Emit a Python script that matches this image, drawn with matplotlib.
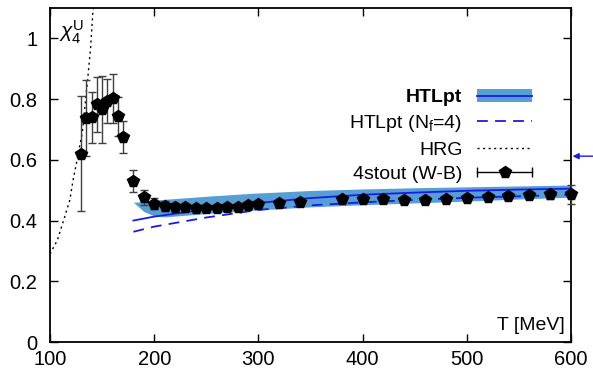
import numpy as np
import matplotlib
matplotlib.use('Agg')
import matplotlib.pyplot as plt
from matplotlib.lines import Line2D
from matplotlib.patches import Patch
from matplotlib.legend_handler import HandlerLine2D, HandlerTuple

plt.rcParams['font.family'] = ['Liberation Sans', 'DejaVu Sans']
plt.rcParams['mathtext.fontset'] = 'custom'
plt.rcParams['mathtext.rm'] = 'Liberation Sans'
plt.rcParams['mathtext.it'] = 'Liberation Sans:italic'

# lattice data, 4stout (W-B)
T_lat = [130, 135, 140, 145, 150, 155, 160, 165, 170, 180, 190, 200, 210, 220,
         230, 240, 250, 260, 270, 280, 290, 300, 320, 340, 380, 400, 420, 440,
         460, 480, 500, 520, 540, 560, 580, 600]
chi_lat = [0.62, 0.737, 0.74, 0.783, 0.766, 0.793, 0.802, 0.743, 0.676, 0.53,
           0.477, 0.455, 0.448, 0.446, 0.444, 0.442, 0.440, 0.440, 0.443,
           0.446, 0.450, 0.454, 0.459, 0.461, 0.470, 0.472, 0.470, 0.468,
           0.468, 0.470, 0.473, 0.477, 0.481, 0.485, 0.487, 0.486]
err_lat = [0.19, 0.125, 0.085, 0.09, 0.11, 0.072, 0.08, 0.065, 0.053, 0.037,
           0.025, 0.018, 0.015, 0.013, 0.01, 0.01, 0.01, 0.01, 0.01, 0.01,
           0.01, 0.01, 0.01, 0.01, 0.01, 0.01, 0.01, 0.01, 0.01, 0.01, 0.01,
           0.01, 0.01, 0.012, 0.015, 0.03]

# HTLpt band and central line
T_htl = [180, 190, 200, 210, 250, 295, 350, 400, 450, 500, 550, 600]
htl_lo = [0.46, 0.43, 0.415, 0.412, 0.423, 0.434, 0.445, 0.452, 0.458, 0.464,
          0.471, 0.477]
htl_hi = [0.46, 0.463, 0.467, 0.470, 0.480, 0.490, 0.499, 0.504, 0.508, 0.511,
          0.514, 0.517]
T_line = [180, 200, 250, 300, 350, 400, 450, 500, 550, 600]
htl_mid = [0.40, 0.413, 0.437, 0.458, 0.474, 0.485, 0.492, 0.498, 0.502, 0.505]
htl_nf4 = [0.363, 0.38, 0.41, 0.435, 0.45, 0.46, 0.468, 0.475, 0.48, 0.485]

# HRG
T_hrg = [100, 107, 113, 119, 122, 126, 131, 136, 139, 141, 142]
chi_hrg = [0.29, 0.335, 0.40, 0.467, 0.53, 0.60, 0.69, 0.86, 0.97, 1.08, 1.11]

band_color = '#569fd5'
line_color = '#1a1aee'

fig = plt.figure(figsize=(5.93, 3.69), dpi=100)
ax = fig.add_axes([50 / 593, 27 / 369, 521 / 593, 334 / 369])

ax.fill_between(T_htl, htl_lo, htl_hi, color=band_color, lw=0)
ax.plot(T_line, htl_mid, color=line_color, lw=1.3)
ax.plot(T_line, htl_nf4, color=line_color, lw=1.3, dashes=(6, 4))
ax.plot(T_hrg, chi_hrg, color='k', lw=1.0, ls=(0, (1.5, 2.5)))
ax.errorbar(T_lat, chi_lat, yerr=err_lat, fmt='p', color='k', ms=8.5,
            ecolor='0.25', elinewidth=1.0, capsize=3, capthick=1.0,
            clip_on=False, zorder=5)

ax.set_xlim(100, 600)
ax.set_ylim(0, 1.1)
ax.set_xticks([100, 200, 300, 400, 500, 600])
ax.set_yticks([0, 0.2, 0.4, 0.6, 0.8, 1.0])
ax.set_yticklabels(['0', '0.2', '0.4', '0.6', '0.8', '1'])
ax.tick_params(direction='in', length=6, width=1.0, labelsize=14.5,
               top=True, right=True)
ax.tick_params(axis='y', pad=9)
ax.tick_params(axis='x', pad=6)
for s in ax.spines.values():
    s.set_linewidth(1.3)

ax.text(109, 0.975, r'$\chi_4^{\mathrm{U}}$', fontsize=15, ha='left',
        va='bottom')
ax.text(594, 0.025, 'T [MeV]', fontsize=14, ha='right', va='bottom')

ax.annotate('', xy=(1.003, 0.612), xycoords=('axes fraction', 'data'),
            xytext=(1.0, 0.612), textcoords=('figure fraction', 'data'),
            arrowprops=dict(arrowstyle='-|>', color=line_color, lw=1.0,
                            mutation_scale=9, shrinkA=0, shrinkB=0),
            annotation_clip=False)

# legend
h_band = Patch(facecolor=band_color, edgecolor='none')
h_mid = Line2D([], [], color=line_color, lw=1.3)
h_nf4 = Line2D([], [], color=line_color, lw=1.3, dashes=(6, 4))
h_hrg = Line2D([], [], color='k', lw=1.0, ls=(0, (1.5, 2.5)))
h_bar = Line2D([], [], color='k', lw=1.0, marker='|', ms=7, mew=1.0)
h_pt = Line2D([], [], color='k', ls='none', marker='p', ms=8.5)

leg = ax.legend([(h_band, h_mid), h_nf4, h_hrg, (h_bar, h_pt)],
                ['HTLpt', r'HTLpt (N$_{\mathrm{f}}$=4)', 'HRG', '4stout (W-B)'],
                handler_map={tuple: HandlerTuple(ndivide=1, pad=0),
                             h_bar: HandlerLine2D(numpoints=2, marker_pad=0),
                             h_pt: HandlerLine2D(numpoints=1)},
                loc='upper right', bbox_to_anchor=(0.926, 0.758),
                frameon=False, markerfirst=False, fontsize=14,
                handlelength=2.85, handletextpad=0.75, labelspacing=0.35,
                borderpad=0, borderaxespad=0)
leg.get_texts()[0].set_fontweight('bold')

fig.savefig('out.png', dpi=100)
